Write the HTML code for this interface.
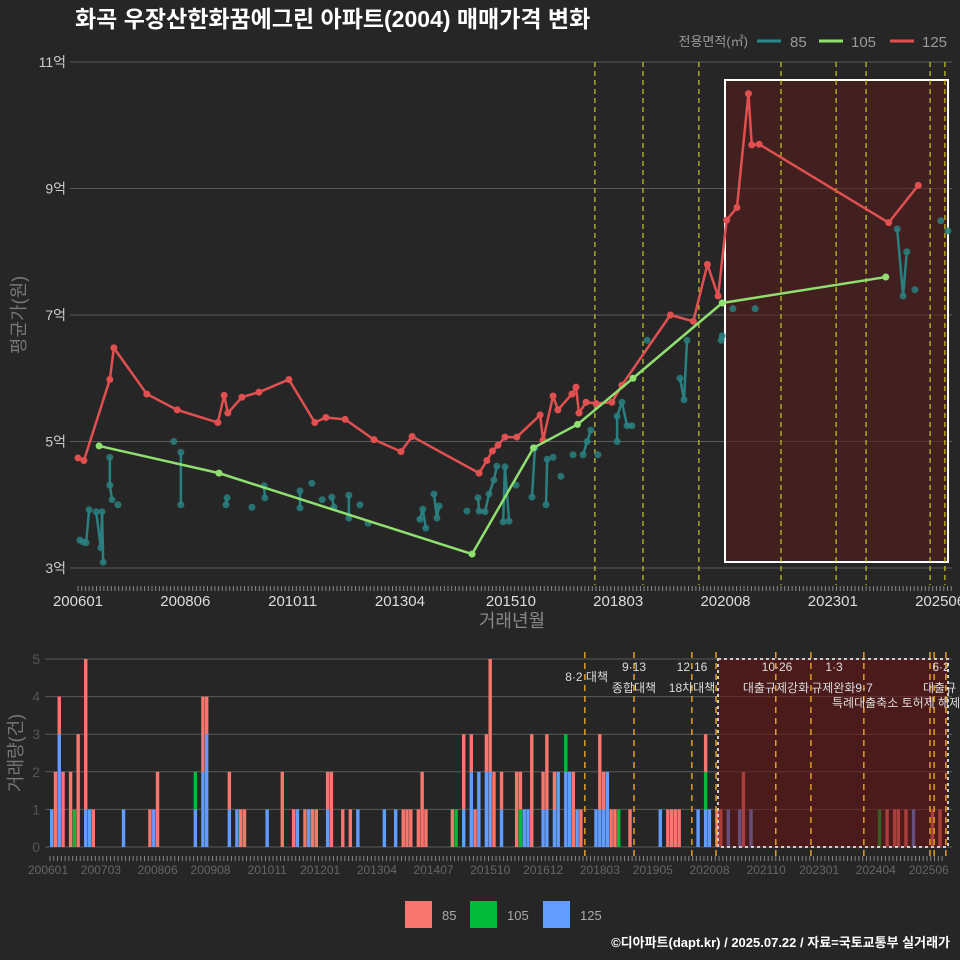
<!DOCTYPE html>
<html><head><meta charset="utf-8">
<style>
html,body{margin:0;padding:0;background:#262626;}
svg{display:block;font-family:"Liberation Sans","Noto Sans CJK KR",sans-serif;}
</style></head>
<body>
<svg id="c" width="960" height="960" viewBox="0 0 960 960">
<rect x="0" y="0" width="960" height="960" fill="#262626"/>
<text x="75" y="27" fill="#ffffff" font-size="23" font-weight="bold">화곡 우장산한화꿈에그린 아파트(2004) 매매가격 변화</text>
<g>
<text x="748" y="46" fill="#9a9a9a" font-size="13" text-anchor="end">전용면적(㎡)</text>
<line x1="757" y1="41" x2="781" y2="41" stroke="#2a8a8a" stroke-width="3"/>
<text x="790" y="47" fill="#9a9a9a" font-size="15">85</text>
<line x1="819" y1="41" x2="843" y2="41" stroke="#90e070" stroke-width="3"/>
<text x="851" y="47" fill="#9a9a9a" font-size="15">105</text>
<line x1="890" y1="41" x2="914" y2="41" stroke="#e05050" stroke-width="3"/>
<text x="922" y="47" fill="#9a9a9a" font-size="15">125</text>
</g>
<text transform="translate(25,315) rotate(-90)" fill="#777" font-size="18" text-anchor="middle">평균가(원)</text>
<text x="512" y="627" fill="#888" font-size="18" text-anchor="middle">거래년월</text>
<text transform="translate(22,753) rotate(-90)" fill="#777" font-size="18" text-anchor="middle">거래량(건)</text>
<g>
<rect x="405" y="901" width="27" height="27" fill="#F8766D"/>
<text x="442" y="920" fill="#aaa" font-size="13">85</text>
<rect x="470" y="901" width="27" height="27" fill="#00BA38"/>
<text x="507" y="920" fill="#aaa" font-size="13">105</text>
<rect x="543" y="901" width="27" height="27" fill="#619CFF"/>
<text x="580" y="920" fill="#aaa" font-size="13">125</text>
</g>
<text x="950" y="947" fill="#ffffff" font-size="13" font-weight="bold" text-anchor="end">©디아파트(dapt.kr) / 2025.07.22 / 자료=국토교통부 실거래가</text>
<g id="topg"></g>
<g id="botg"></g>
</svg>
<script>
// ---- data ----
const priceTicks = [3,5,7,9,11];
const priceTickLabels = ["3억","5억","7억","9억","11억"];
const topTickMonths = [0,29,58,87,117,146,175,204,233];
const topTickLabels = ["200601","200806","201011","201304","201510","201803","202008","202301","202506"];
const botTickMonths = [0,14,29,43,58,72,87,102,117,131,146,160,175,190,204,219,233];
const botTickLabels = ["200601","200703","200806","200908","201011","201201","201304","201407","201510","201612","201803","201905","202008","202110","202301","202404","202506"];
const s125Months = [0,1.6,8.6,9.7,18.6,26.8,37.8,39.5,40.5,44.3,48.9,57,64,67,72.2,80,87.3,90.3,108.4,110.5,112,113.5,115.4,118.6,124.9,125.7,128.4,129.7,133.5,134.6,135.4,137.3,140,144.3,147,160.1,166.3,170.1,173,175.3,178.1,181.2,182.1,184.1,219.1,227.1];
const s125Values = [4.74,4.7,5.98,6.48,5.75,5.5,5.3,5.73,5.45,5.7,5.78,5.98,5.3,5.38,5.35,5.03,4.84,5.08,4.5,4.7,4.85,4.94,5.07,5.07,5.42,5.02,5.72,5.5,5.75,5.86,5.45,5.62,5.6,5.62,5.89,7.0,6.9,7.8,7.3,8.5,8.7,10.5,9.69,9.7,8.46,9.05];
const s105Months = [5.7,38.1,106.5,123.1,135,150,174.1,218.3];
const s105Values = [4.93,4.5,3.22,4.9,5.27,6.0,7.19,7.6];
const s85Months = [0.5,1.4,2.2,3.0,4.9,6.2,6.5,6.8,8.6,8.6,9.2,10.8,25.9,27.8,27.8,40.0,40.3,47,50.3,50.5,60,60,63.2,66,68.6,69.2,73.2,73.2,76.2,78.4,92.4,93.2,94,96.2,97,97.6,105.1,108.1,108.4,110,111.1,112.4,113.2,114.9,115.4,116.5,118.4,122.7,123.5,126.5,126.8,128.4,130.5,133.8,136.5,137.6,138.6,140.5,145.7,145.7,147,148.4,149.7,153.8,162.7,163.8,164.6,173.8,174.1,177,183,221.4,223,224,226.2,233.2,235.1];
const s85Values = [3.44,3.41,3.40,3.92,3.89,3.32,3.89,3.09,4.75,4.31,4.08,4.0,5.0,4.83,4.0,4.0,4.11,3.96,4.3,4.11,4.22,3.95,4.34,4.08,4.12,3.96,4.15,3.79,4.0,3.71,3.77,3.93,3.63,4.17,3.79,3.98,3.9,4.11,3.9,3.89,4.17,4.39,4.61,3.73,4.6,3.74,4.31,4.12,4.9,4.0,4.72,4.75,4.45,4.79,4.79,5.0,5.18,4.79,5.0,5.4,5.62,5.25,5.25,6.6,6.0,5.66,6.6,6.6,6.67,7.1,7.1,8.36,7.3,8.0,7.4,8.49,8.33];
const policyMonthsTop = [139.7,152.7,167.8,190,204.9,213,230.3,234.3];
const policyMonthsBot = [141.5,154.5,169.8,176.2,192,201.3,215.3,232.8,233.9,237];
const volMonths = [0,1,2,3,5,6,7,9,10,11,19,26,27,28,38,40,41,47,49,50,51,57,61,64,65,67,68,69,70,73,74,77,79,81,88,91,93,94,95,97,98,99,106,107,109,111,112,113,115,116,117,119,123,124,125,126,127,130,131,133,134,136,137,138,139,140,144,145,146,147,148,149,150,153,161,163,164,165,166,171,173,174,176,177,179,182,183,185,219,221,223,224,226,228,233,235];
const vol125 = [1,0,3,0,0,0,0,1,1,0,1,0,1,0,1,2,3,1,1,0,0,1,0,0,1,0,1,0,0,1,0,0,0,1,1,1,0,0,0,0,0,0,0,0,1,2,0,2,2,2,0,1,0,0,1,1,0,1,1,1,2,2,2,0,1,0,1,1,1,2,0,0,0,0,1,0,0,0,0,1,1,1,0,0,1,1,0,1,0,0,0,0,0,1,0,0];
const vol105 = [0,0,0,0,0,1,0,0,0,0,0,0,0,0,1,0,0,0,0,0,0,0,0,0,0,0,0,0,0,0,0,0,0,0,0,0,0,0,0,0,0,0,0,1,0,0,0,0,0,0,0,0,0,1,0,0,0,0,0,0,0,1,0,0,0,0,0,0,0,0,0,0,1,0,0,0,0,0,0,0,1,0,0,0,0,0,0,0,1,0,0,0,0,0,0,0];
const vol85 = [0,2,1,2,2,0,3,4,0,1,0,1,0,2,0,2,1,1,0,1,1,0,2,1,0,1,0,1,1,1,2,1,1,0,0,0,1,1,1,1,2,1,1,0,2,1,1,0,1,3,2,1,2,1,0,0,3,1,2,1,0,0,0,2,0,1,0,2,1,0,1,1,0,1,0,1,1,1,1,0,1,0,1,1,0,0,2,0,0,1,1,1,1,0,1,1];
const policyLabels = [
 ["8·2 대책",608,681,"end"],["9·13",634,671,"middle"],["종합대책",634,692,"middle"],
 ["12·16",692,671,"middle"],["18차대책",692,692,"middle"],["10·26",777,671,"middle"],
 ["대출규제강화",776,692,"middle"],["1·3",834,671,"middle"],["규제완화9·7",842,692,"middle"],
 ["특례대출축소 토허제 해제",832,707,"start"],["6·2",941,671,"middle"],["대출규",923,692,"start"]];

// ---- axes ----
const tx = m => 78 + m*3.7;
const ty = v => 568 - (v-3)*63.25;
const bx = m => 50 + m*3.78;
const by = c => 847 - c*37.6;
const NS = "http://www.w3.org/2000/svg";
function mk(tag, attrs, parent){ const e=document.createElementNS(NS,tag); for(const k in attrs) e.setAttribute(k,attrs[k]); parent.appendChild(e); return e; }
const gTop = document.getElementById('topg'), gBot = document.getElementById('botg');

priceTicks.forEach((v,i)=>{
  const l = mk('line',{x1:70,x2:952,y1:ty(v),y2:ty(v),stroke:'#5a5a5a','stroke-width':1},gTop);
  
  
  const t = mk('text',{x:66,y:ty(v)+5,fill:'#cccccc','font-size':14,'text-anchor':'end'},gTop);
  t.textContent = priceTickLabels[i];
  
  
});
const sr = mk('rect',{x:725,y:80,width:223,height:482,fill:'#5a1c1c','fill-opacity':0.55,stroke:'#ffffff','stroke-width':2},gTop);


policyMonthsTop.forEach(m=>{
  const l = mk('line',{x1:tx(m),x2:tx(m),y1:62,y2:585,stroke:'#c8c820','stroke-width':1.2,'stroke-dasharray':'5,4'},gTop);
  
  
});
for(let m=0;m<237;m++){
  const l = mk('line',{x1:tx(m),x2:tx(m),y1:586,y2:591,stroke:'#888','stroke-width':1},gTop);
  
  
}
topTickMonths.forEach((m,i)=>{
  const t = mk('text',{x:tx(m),y:606,fill:'#dddddd','font-size':15,'text-anchor':'middle'},gTop);
  t.textContent = topTickLabels[i];
  
  
});
for(let i=1;i<s85Months.length;i++){
  if(s85Months[i]-s85Months[i-1]<1.6){
    const l = mk('line',{x1:tx(s85Months[i-1]),y1:ty(s85Values[i-1]),x2:tx(s85Months[i]),y2:ty(s85Values[i]),stroke:'#2a8080','stroke-width':2.5},gTop);
    
    
  }
}
s85Months.forEach((m,i)=>{
  const c = mk('circle',{cx:tx(m),cy:ty(s85Values[i]),r:3.5,fill:'#2a8080','fill-opacity':0.85},gTop);
  
  
});
function series(ms, vs, color, name){
  const p = mk('polyline',{points:ms.map((m,i)=>tx(m)+','+ty(vs[i])).join(' '),fill:'none',stroke:color,'stroke-width':2.5,'stroke-linejoin':'round'},gTop);
  
  
  ms.forEach((m,i)=>{
    const c = mk('circle',{cx:tx(m),cy:ty(vs[i]),r:3.5,fill:color},gTop);
    
    
  });
}
series(s125Months,s125Values,'#e05050','series-125');
series(s105Months,s105Values,'#90e070','series-105');

[0,1,2,3,4,5].forEach(c=>{
  const l = mk('line',{x1:45,x2:952,y1:by(c),y2:by(c),stroke:'#5a5a5a','stroke-width':1},gBot);
  
  
  const t = mk('text',{x:40,y:by(c)+5,fill:'#555','font-size':14,'text-anchor':'end'},gBot);
  t.textContent = String(c);
  
  
});
volMonths.forEach((m,i)=>{
  const x = bx(m), w = 3.4;
  let base = 0;
  [[vol125[i],'#619CFF','bar-125'],[vol105[i],'#00BA38','bar-105'],[vol85[i],'#F8766D','bar-85']].forEach(([c,col,nm])=>{
    if(c>0){
      const r = mk('rect',{x:x,y:by(base+c),width:w,height:by(base)-by(base+c),fill:col},gBot);
      
      
      base += c;
    }
  });
});
const br = mk('rect',{x:718,y:659,width:230,height:188,fill:'#6a1010','fill-opacity':0.55,stroke:'#cccccc','stroke-width':2,'stroke-dasharray':'3,3'},gBot);


policyMonthsBot.forEach(m=>{
  const l = mk('line',{x1:bx(m),x2:bx(m),y1:652,y2:858,stroke:'#e0a020','stroke-width':1.5,'stroke-dasharray':'6,5'},gBot);
  
  
});
policyLabels.forEach(p=>{
  const t = mk('text',{x:p[1],y:p[2],fill:'#dddddd','font-size':12,'text-anchor':p[3]},gBot);
  t.textContent = p[0];
  
  
});
for(let m=0;m<237;m++){
  const l = mk('line',{x1:bx(m),x2:bx(m),y1:856,y2:861,stroke:'#888','stroke-width':1},gBot);
  
  
}
botTickMonths.forEach((m,i)=>{
  const t = mk('text',{x:bx(m)-2,y:874,fill:'#666','font-size':12,'text-anchor':'middle'},gBot);
  t.textContent = botTickLabels[i];
  
  
});
</script>
</body></html>
